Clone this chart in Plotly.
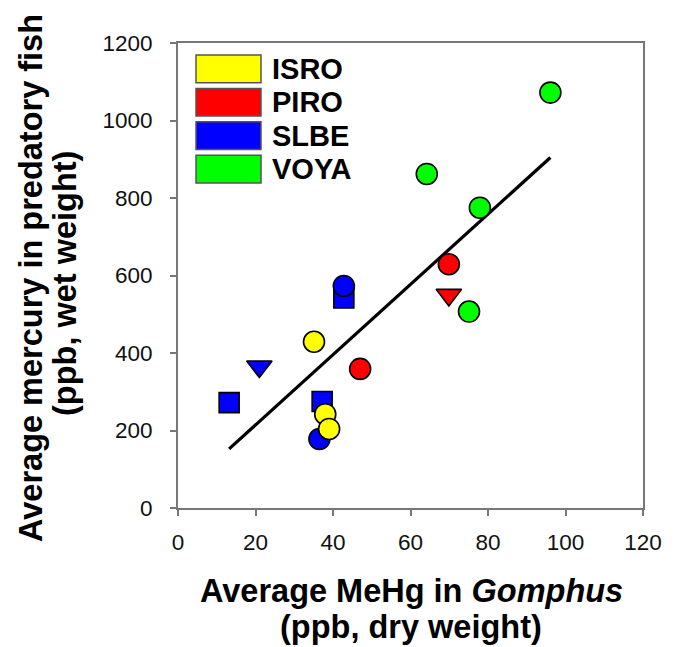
import numpy as np
import plotly.graph_objects as go

# ---- data ----
sites = ["ISRO", "PIRO", "SLBE", "VOYA"]
site_colors = ["#FFFF00", "#FF0000", "#0000FF", "#00FF00"]

slbe_x = [13.2, 42.8, 37.2, 21.0, 42.8, 36.5]
slbe_y = [272, 542, 275, 365, 573, 178]
slbe_sym = ["square", "square", "square", "triangle-down", "circle", "circle"]

isro_x = [35.1, 38.0, 39.0]
isro_y = [429, 242, 204]
isro_sym = ["circle", "circle", "circle"]

piro_x = [47.0, 69.9, 69.9]
piro_y = [359, 629, 550]
piro_sym = ["circle", "circle", "triangle-down"]

voya_x = [96.1, 64.2, 77.9, 75.1]
voya_y = [1072, 862, 775, 507]
voya_sym = ["circle", "circle", "circle", "circle"]

x_ticks = [0, 20, 40, 60, 80, 100, 120]
y_ticks = [0, 200, 400, 600, 800, 1000, 1200]

# ---- figure geometry ----
W, H = 681, 647
L, R, T, B = 178, 38, 43, 139
PW, PH = W - L - R, H - T - B


def px(x):
    return (x - L) / PW


def py(y):
    return (H - B - y) / PH


fig = go.Figure()

# regression line through all points
all_x = np.array(slbe_x + isro_x + piro_x + voya_x, dtype=float)
all_y = np.array(slbe_y + isro_y + piro_y + voya_y, dtype=float)
slope, intercept = np.polyfit(all_x, all_y, 1)
lx = np.array([all_x.min(), all_x.max()])
fig.add_trace(go.Scatter(x=lx, y=slope * lx + intercept, mode="lines",
                         line=dict(color="black", width=3.2), hoverinfo="skip",
                         showlegend=False))


def size_for(syms):
    return [22 if s == "triangle-down" else (20 if s == "square" else 21) for s in syms]


groups = [
    ("SLBE", slbe_x, slbe_y, slbe_sym),
    ("ISRO", isro_x, isro_y, isro_sym),
    ("PIRO", piro_x, piro_y, piro_sym),
    ("VOYA", voya_x, voya_y, voya_sym),
]
for name, gx, gy, gs in groups:
    color = site_colors[sites.index(name)]
    fig.add_trace(go.Scatter(
        x=gx, y=gy, mode="markers", name=name, showlegend=False,
        marker=dict(color=color, symbol=gs, size=size_for(gs), opacity=1,
                    line=dict(color="black", width=1.6)),
    ))

# ---- custom legend (rectangles + labels) ----
shapes = []
annotations = []
for i, (name, color) in enumerate(zip(sites, site_colors)):
    top = 55 + i * 33.4
    bot = top + 27.7
    shapes.append(dict(type="rect", xref="paper", yref="paper",
                       x0=px(196), x1=px(261), y0=py(bot), y1=py(top),
                       fillcolor=color, line=dict(color="#555555", width=1.5)))
    annotations.append(dict(xref="paper", yref="paper", x=px(270), y=py((top + bot) / 2),
                            xanchor="left", yanchor="middle", showarrow=False,
                            text="<b>%s</b>" % name,
                            font=dict(family="Liberation Sans", size=29, color="black")))

title_font = dict(family="Liberation Sans", size=32.5, color="black")
# x-axis title lines
annotations.append(dict(xref="paper", yref="paper", x=px(411), y=py(591),
                        xanchor="center", yanchor="middle", showarrow=False,
                        text="<b>Average MeHg in <i>Gomphus</i></b>", font=title_font))
annotations.append(dict(xref="paper", yref="paper", x=px(411), y=py(627),
                        xanchor="center", yanchor="middle", showarrow=False,
                        text="<b>(ppb, dry weight)</b>", font=title_font))
# y-axis title lines
annotations.append(dict(xref="paper", yref="paper", x=px(31), y=py(278),
                        xanchor="center", yanchor="middle", showarrow=False, textangle=-90,
                        text="<b>Average mercury in predatory fish</b>", font=title_font))
annotations.append(dict(xref="paper", yref="paper", x=px(65), y=py(284),
                        xanchor="center", yanchor="middle", showarrow=False, textangle=-90,
                        text="<b>(ppb, wet weight)</b>", font=title_font))

axis_common = dict(showgrid=False, zeroline=False, showline=True, linecolor="#777777",
                   linewidth=2, mirror=True, ticks="outside", ticklen=6, tickwidth=1.5,
                   tickcolor="#777777",
                   tickfont=dict(family="Liberation Sans", size=22.5, color="#111111"))

fig.update_layout(
    width=W, height=H,
    margin=dict(l=L, r=R, t=T, b=B, pad=0),
    paper_bgcolor="white", plot_bgcolor="white",
    xaxis=dict(range=[0, 120], tickvals=x_ticks, ticktext=[str(v) for v in x_ticks],
               ticklabelstandoff=7, **axis_common),
    yaxis=dict(range=[0, 1200], tickvals=y_ticks, ticktext=[str(v) for v in y_ticks],
               ticklabelstandoff=13, **axis_common),
    shapes=shapes, annotations=annotations, showlegend=False,
)

fig.write_html("out.html", config={"displayModeBar": False},
               post_script="document.body.style.margin='0';document.body.style.padding='0';")
